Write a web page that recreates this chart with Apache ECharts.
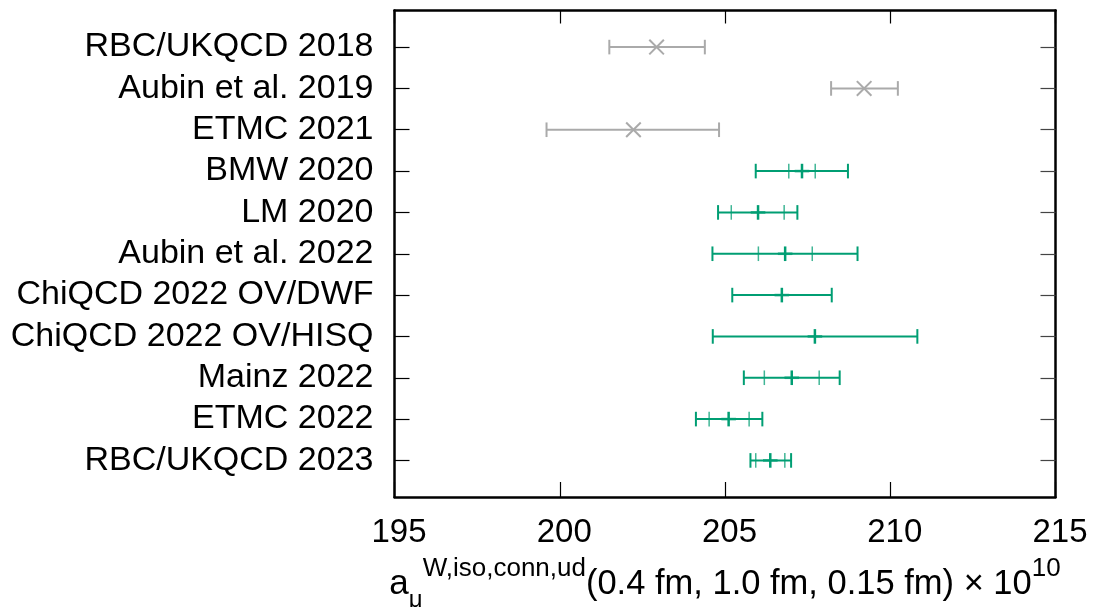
<!DOCTYPE html>
<html>
<head>
<meta charset="utf-8">
<script src="https://cdn.jsdelivr.net/npm/echarts@6/dist/echarts.min.js"></script>
<style>
  html, body { margin: 0; padding: 0; background: #fff; }
  #chart { width: 1093px; height: 607px; }
</style>
</head>
<body>
<div id="chart"></div>
<script>
// ---- data ----
const names = [
  'RBC/UKQCD 2018', 'Aubin et al. 2019', 'ETMC 2021', 'BMW 2020', 'LM 2020',
  'Aubin et al. 2022', 'ChiQCD 2022 OV/DWF', 'ChiQCD 2022 OV/HISQ',
  'Mainz 2022', 'ETMC 2022', 'RBC/UKQCD 2023'
];
// 1 = earlier result (grey, cross marker), 0 = recent (green)
const earlier = [1, 1, 1, 0, 0, 0, 0, 0, 0, 0, 0];
const centers = [202.93, 209.21, 202.23, 207.33, 206.00, 206.82, 206.72, 207.72, 207.02, 205.11, 206.37];
const totLo   = [201.50, 208.21, 199.60, 205.93, 204.79, 204.62, 205.22, 204.63, 205.57, 204.12, 205.77];
const totHi   = [204.39, 210.23, 204.82, 208.72, 207.19, 209.01, 208.23, 210.82, 208.47, 206.13, 207.00];
const statLo  = [null, null, null, 206.93, 205.19, 206.01, null, null, 206.19, 204.52, 205.93];
const statHi  = [null, null, null, 207.73, 206.79, 207.64, null, null, 207.85, 205.73, 206.81];
const xTicks = { min: 195, max: 215, step: 5 };

// ---- build ----
const FONT = "'Liberation Sans', Arial, Helvetica, sans-serif";
const GREY = '#aaaaaa';
const GREEN = '#009e73';
const rowIdx = names.map((_, i) => i);

function rowsFor(flag) {
  const out = [];
  names.forEach((n, i) => {
    if (earlier[i] === flag) {
      out.push([i, centers[i], totLo[i], totHi[i],
        statLo[i] == null ? NaN : statLo[i], statHi[i] == null ? NaN : statHi[i]]);
    }
  });
  return out;
}

function makeRender(color, crossMarker) {
  return function (params, api) {
    const y = api.value(0);
    const c = api.coord([api.value(1), y]);
    const l = api.coord([api.value(2), y]);
    const h = api.coord([api.value(3), y]);
    const sl = api.value(4), sh = api.value(5);
    const H = 7.3;
    const lw = 2;
    const ch = [];
    const seg = (x1, y1, x2, y2, w, op) => ({
      type: 'line',
      shape: { x1, y1, x2, y2 },
      style: { stroke: color, lineWidth: w, opacity: op == null ? 1 : op }
    });
    ch.push(seg(l[0], l[1], h[0], h[1], lw));
    ch.push(seg(l[0], l[1] - H, l[0], l[1] + H, lw));
    ch.push(seg(h[0], h[1] - H, h[0], h[1] + H, lw));
    if (!isNaN(sl)) {
      const a = api.coord([sl, y]);
      ch.push(seg(a[0], a[1] - H, a[0], a[1] + H, 1.5, 0.75));
    }
    if (!isNaN(sh)) {
      const b = api.coord([sh, y]);
      ch.push(seg(b[0], b[1] - H, b[0], b[1] + H, 1.5, 0.75));
    }
    if (crossMarker) {
      ch.push(seg(c[0] - H, c[1] - H, c[0] + H, c[1] + H, lw));
      ch.push(seg(c[0] - H, c[1] + H, c[0] + H, c[1] - H, lw));
    } else {
      ch.push(seg(c[0], c[1] - H, c[0], c[1] + H, 2.5));
      ch.push(seg(c[0] - H, c[1], c[0] + H, c[1], 2.6, 0.8));
    }
    return { type: 'group', children: ch };
  };
}

const axisLineStyle = { show: true, onZero: false, lineStyle: { color: '#000', width: 2.5 } };
const LH = 56;

const chart = echarts.init(document.getElementById('chart'), null, { renderer: 'canvas' });
chart.setOption({
  animation: false,
  backgroundColor: '#fff',
  grid: { left: 394.5, top: 10.5, width: 661, height: 486.5, containLabel: false, outerBoundsMode: 'none' },
  xAxis: [
    {
      type: 'value', position: 'bottom',
      min: xTicks.min, max: xTicks.max, interval: xTicks.step,
      axisLine: axisLineStyle,
      axisTick: { show: true, inside: true, length: 15, lineStyle: { color: '#000', width: 1.2 } },
      axisLabel: { show: true, fontSize: 33, color: '#000', fontFamily: FONT, margin: 19, padding: [0, 0, 0, 9] },
      splitLine: { show: false },
      name: '{a|a}{sub|μ}{sup|W,iso,conn,ud}{m|(0.4 fm, 1.0 fm, 0.15 fm) × 10}{sup|10}',
      nameLocation: 'middle',
      nameGap: 59,
      nameTextStyle: {
        color: '#000', fontFamily: FONT,
        rich: {
          a:   { fontSize: 35, lineHeight: LH, verticalAlign: 'middle', color: '#000', fontFamily: FONT },
          sub: { fontSize: 24, lineHeight: LH, verticalAlign: 'bottom', color: '#000', fontFamily: FONT },
          sup: { fontSize: 26, lineHeight: LH, verticalAlign: 'top', color: '#000', fontFamily: FONT },
          m:   { fontSize: 34.5, lineHeight: LH, verticalAlign: 'middle', color: '#000', fontFamily: FONT }
        }
      }
    },
    {
      type: 'value', position: 'top',
      min: xTicks.min, max: xTicks.max, interval: xTicks.step,
      axisLine: axisLineStyle,
      axisTick: { show: true, inside: true, length: 13, lineStyle: { color: '#000', width: 1.2 } },
      axisLabel: { show: false },
      splitLine: { show: false }
    }
  ],
  yAxis: [
    {
      type: 'value', position: 'left', inverse: true,
      min: -0.885, max: 10.885,
      axisLine: axisLineStyle,
      axisTick: { show: true, inside: true, length: 15, customValues: rowIdx, lineStyle: { color: '#000', width: 1.2 } },
      axisLabel: {
        show: true, customValues: rowIdx, fontSize: 34, color: '#000', fontFamily: FONT, margin: 21,
        formatter: v => names[Math.round(v)]
      },
      splitLine: { show: false }
    },
    {
      type: 'value', position: 'right', inverse: true,
      min: -0.885, max: 10.885,
      axisLine: axisLineStyle,
      axisTick: { show: true, inside: true, length: 15, customValues: rowIdx, lineStyle: { color: '#444', width: 1.2 } },
      axisLabel: { show: false },
      splitLine: { show: false }
    }
  ],
  series: [
    {
      type: 'custom', xAxisIndex: 0, yAxisIndex: 0,
      renderItem: makeRender(GREY, true),
      encode: { x: [1, 2, 3], y: 0 },
      data: rowsFor(1), clip: false, silent: true
    },
    {
      type: 'custom', xAxisIndex: 0, yAxisIndex: 0,
      renderItem: makeRender(GREEN, false),
      encode: { x: [1, 2, 3], y: 0 },
      data: rowsFor(0), clip: false, silent: true
    }
  ]
});
</script>
</body>
</html>
